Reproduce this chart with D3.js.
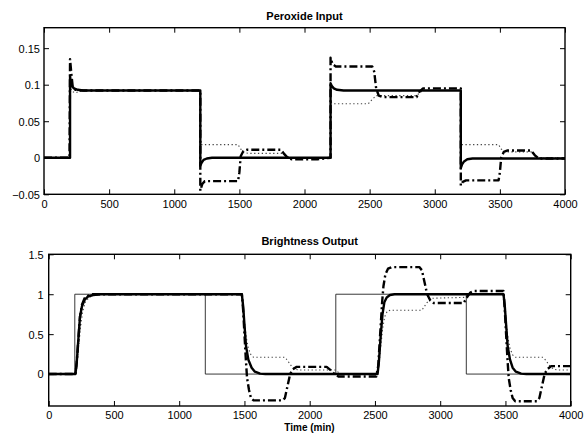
<!DOCTYPE html>
<html><head><meta charset="utf-8">
<script src="https://cdn.jsdelivr.net/npm/d3@7"></script>
<style>
html,body{margin:0;padding:0;background:#fff;}
svg{display:block;}
text{font-family:"Liberation Sans",Arial,sans-serif;}
</style></head>
<body>
<svg id="chart" width="584" height="433"></svg>
<script>
// ---------- data ----------
const xTicks = [0,500,1000,1500,2000,2500,3000,3500,4000];
const topYTicks = [-0.05,0,0.05,0.1,0.15];
const botYTicks = [0,0.5,1,1.5];
const topTitle = "Peroxide Input";
const botTitle = "Brightness Output";
const xLabel = "Time (min)";

// Peroxide input – thick solid
const inSolid = [[0,0],[200,0],[200,0.112],[205,0.104],[215,0.098],[230,0.095],[260,0.093],[300,0.092],[1200,0.092],[1200,-0.011],[1210,-0.007],[1225,-0.003],[1250,-0.001],[1290,0],[2200,0],[2200,0.102],[2210,0.098],[2225,0.095],[2250,0.093],[2300,0.092],[3200,0.092],[3200,-0.014],[3210,-0.009],[3225,-0.005],[3250,-0.002],[3290,-0.001],[4000,-0.001]];
// Peroxide input – dash-dot
const inDashDot = [[0,0],[196,0],[200,0.135],[210,0.115],[220,0.098],[240,0.093],[300,0.092],[1200,0.092],[1200,-0.045],[1215,-0.036],[1235,-0.032],[1490,-0.032],[1500,-0.02],[1510,0.002],[1530,0.009],[1560,0.011],[1820,0.011],[1840,0.006],[1870,0],[1900,-0.002],[2100,-0.002],[2200,0],[2200,0.137],[2215,0.128],[2240,0.125],[2520,0.125],[2535,0.118],[2550,0.095],[2570,0.085],[2600,0.083],[2860,0.083],[2880,0.09],[2910,0.095],[3200,0.095],[3200,-0.038],[3215,-0.033],[3240,-0.031],[3490,-0.031],[3500,-0.02],[3510,0],[3530,0.008],[3560,0.01],[3740,0.01],[3770,0.003],[3800,-0.001],[4000,-0.001]];
// Peroxide input – dotted
const inDotted = [[0,0],[200,0],[202,0.097],[215,0.091],[240,0.089],[280,0.091],[320,0.092],[1200,0.092],[1203,0.018],[1490,0.018],[1510,0.012],[1540,0.007],[1570,0.006],[1840,0.006],[1870,0.002],[1900,0],[2200,0],[2203,0.076],[2230,0.074],[2490,0.074],[2520,0.08],[2550,0.085],[2860,0.085],[2890,0.09],[2920,0.092],[3200,0.092],[3203,0.018],[3490,0.018],[3510,0.012],[3540,0.008],[3750,0.008],[3780,0.002],[3800,0],[4000,0]];

// Brightness output – setpoint (thin solid)
const outSetpoint = [[0,0],[200,0],[200,1],[1200,1],[1200,0],[2200,0],[2200,1],[3200,1],[3200,0],[4000,0]];
// Brightness output – thick solid
const outSolid = [[0,0],[205,0],[215,0.15],[230,0.5],[240,0.72],[255,0.85],[275,0.93],[300,0.97],[340,0.99],[400,1],[1480,1],[1490,0.85],[1500,0.62],[1512,0.35],[1530,0.18],[1555,0.08],[1580,0.03],[1620,0.005],[1660,0],[2520,0],[2530,0.15],[2545,0.5],[2558,0.75],[2572,0.9],[2590,0.96],[2615,0.99],[2650,1],[3485,1],[3495,0.85],[3505,0.62],[3517,0.35],[3535,0.18],[3555,0.08],[3580,0.03],[3620,0.005],[3660,0],[4000,0]];
// Brightness output – dash-dot
const outDashDot = [[0,0],[205,0],[215,0.15],[230,0.5],[240,0.72],[255,0.87],[275,0.95],[300,0.98],[340,1],[1480,1],[1490,0.8],[1500,0.5],[1510,0.2],[1520,-0.05],[1535,-0.2],[1550,-0.3],[1570,-0.33],[1790,-0.33],[1810,-0.3],[1830,-0.15],[1850,0],[1870,0.06],[1900,0.09],[2130,0.09],[2160,0.05],[2190,0],[2220,-0.03],[2510,-0.03],[2525,0.1],[2540,0.5],[2555,0.9],[2565,1.1],[2580,1.25],[2600,1.32],[2630,1.34],[2840,1.34],[2860,1.3],[2880,1.15],[2900,1.0],[2925,0.92],[2950,0.89],[3180,0.89],[3200,0.95],[3230,1.02],[3260,1.04],[3485,1.04],[3495,0.8],[3505,0.5],[3515,0.2],[3525,-0.05],[3540,-0.2],[3555,-0.3],[3575,-0.34],[3740,-0.34],[3760,-0.3],[3780,-0.15],[3800,0],[3820,0.06],[3850,0.1],[4000,0.1]];
// Brightness output – dotted
const outDotted = [[0,0],[205,0],[215,0.1],[230,0.35],[245,0.6],[260,0.78],[280,0.9],[310,0.96],[350,0.99],[400,1],[1480,1],[1490,0.85],[1500,0.65],[1515,0.45],[1530,0.32],[1550,0.24],[1570,0.21],[1810,0.21],[1830,0.17],[1860,0.1],[1890,0.06],[1920,0.05],[2200,0.05],[2220,0.02],[2250,0],[2520,0],[2530,0.1],[2545,0.35],[2560,0.58],[2575,0.72],[2595,0.79],[2620,0.8],[2860,0.8],[2880,0.85],[2910,0.92],[2940,0.95],[3180,0.96],[3210,0.99],[3240,1],[3485,1],[3495,0.85],[3505,0.65],[3520,0.45],[3535,0.32],[3555,0.24],[3575,0.21],[3790,0.21],[3810,0.17],[3840,0.1],[3870,0.06],[3900,0.05],[4000,0.05]];

// ---------- drawing ----------
const svg = d3.select("#chart");
const fmt = v => (v < 0 ? "\u2212" : "") + String(Math.abs(v));

function panel(id, box, yDomain, yTicks, series, title, titleY, labelGap, xLabelY) {
  const x = d3.scaleLinear().domain([0,4000]).range([box.l, box.r]);
  const y = d3.scaleLinear().domain(yDomain).range([box.b, box.t]);
  const g = svg.append("g");
  g.append("clipPath").attr("id", id).append("rect")
    .attr("x", box.l).attr("y", box.t).attr("width", box.r-box.l).attr("height", box.b-box.t);

  const line = d3.line().x(d => x(d[0])).y(d => y(d[1]));
  const lg = g.append("g").attr("clip-path", `url(#${id})`);
  series.forEach(s => {
    lg.append("path").datum(s.data).attr("d", line)
      .attr("fill","none").attr("stroke", s.color).attr("stroke-width", s.w)
      .attr("stroke-dasharray", s.dash || null)
      .attr("stroke-linejoin","round");
  });

  const tickLen = 5;
  const ax = (axis, tr) => {
    const a = g.append("g").attr("transform", tr).call(axis);
    a.select(".domain").remove();
    a.selectAll("line").attr("stroke","#000").attr("stroke-width",1);
    a.selectAll("text").attr("font-size","11px").attr("fill","#000");
    return a;
  };
  const xb = ax(d3.axisBottom(x).tickValues(xTicks).tickSizeInner(-tickLen).tickSizeOuter(0).tickPadding(0).tickFormat(d3.format("d")), `translate(0,${box.b})`);
  xb.selectAll("text").attr("y", xLabelY).attr("dy", 0);
  ax(d3.axisTop(x).tickValues(xTicks).tickSizeInner(-tickLen).tickSizeOuter(0).tickFormat(""), `translate(0,${box.t})`);
  const yl = ax(d3.axisLeft(y).tickValues(yTicks).tickSizeInner(-tickLen).tickSizeOuter(0).tickFormat(fmt), `translate(${box.l},0)`);
  yl.selectAll("text").attr("x", -labelGap).attr("dy","0.35em");
  ax(d3.axisRight(y).tickValues(yTicks).tickSizeInner(-tickLen).tickSizeOuter(0).tickFormat(""), `translate(${box.r},0)`);

  g.append("rect").attr("x", box.l).attr("y", box.t).attr("width", box.r-box.l).attr("height", box.b-box.t)
    .attr("fill","none").attr("stroke","#000").attr("stroke-width",1.4);

  g.append("text").attr("x", (box.l+box.r)/2).attr("y", titleY).attr("text-anchor","middle")
    .attr("font-size","11px").attr("font-weight","bold").text(title);
  return {x, y};
}

panel("clipTop", {l:44, r:565, t:27.7, b:194.3}, [-0.05, 0.178], topYTicks, [
  {data: inDotted, color:"#444", w:1.1, dash:"1.3,2.5"},
  {data: inDashDot, color:"#000", w:2.4, dash:"8,3,2,3"},
  {data: inSolid, color:"#000", w:2.4}
], topTitle, 19.7, 4, 14);

panel("clipBot", {l:48.7, r:570.7, t:254.3, b:406}, [-0.4, 1.5], botYTicks, [
  {data: outSetpoint, color:"#222", w:0.9},
  {data: outDotted, color:"#444", w:1.1, dash:"1.3,2.5"},
  {data: outDashDot, color:"#000", w:2.4, dash:"8,3,2,3"},
  {data: outSolid, color:"#000", w:2.4}
], botTitle, 245.3, 5, 12.5);

svg.append("text").attr("x", 309.5).attr("y", 431).attr("text-anchor","middle")
  .attr("font-size","10px").attr("font-weight","bold").text(xLabel);
</script>
</body></html>
